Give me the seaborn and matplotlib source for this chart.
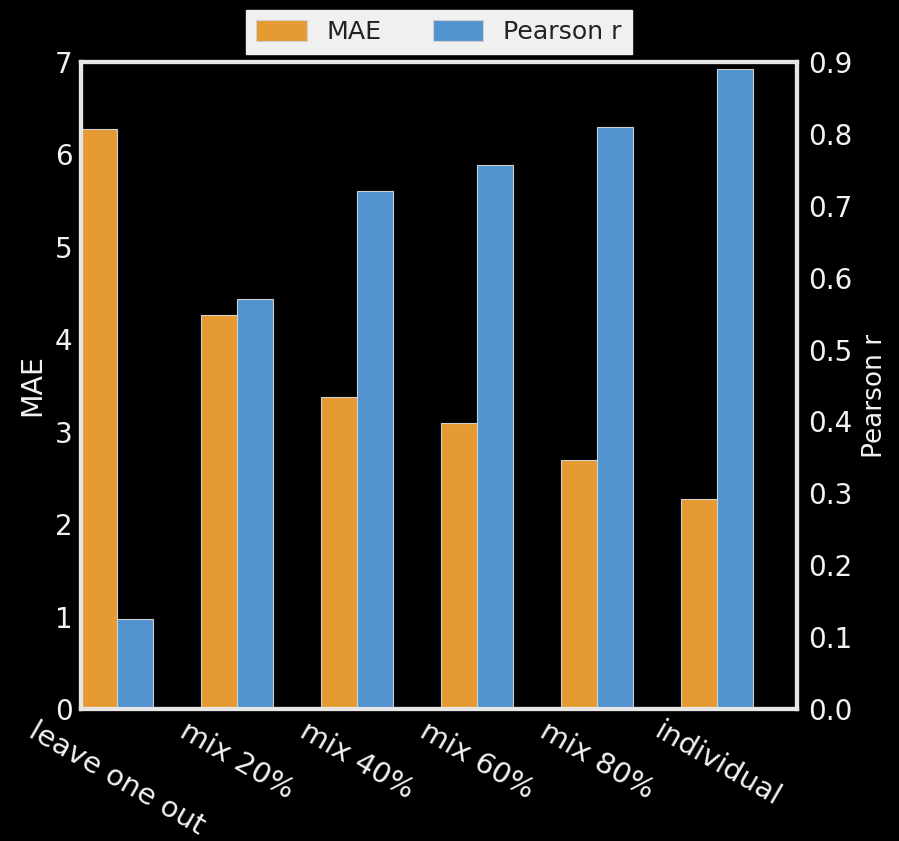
import matplotlib
matplotlib.use("Agg")
import matplotlib.pyplot as plt
import seaborn as sns
import pandas as pd

settings = ["leave one out", "mix 20%", "mix 40%", "mix 60%", "mix 80%", "individual"]
mae = [6.27, 4.26, 3.37, 3.09, 2.69, 2.27]
pearson_r = [0.125, 0.570, 0.720, 0.757, 0.810, 0.890]
metrics = ["MAE", "Pearson r"]
colors = {"MAE": "#E59B31", "Pearson r": "#5293CF"}

df = pd.DataFrame({
    "setting": settings * 2,
    "metric": ["MAE"] * len(settings) + ["Pearson r"] * len(settings),
    "value": mae + pearson_r,
})

sns.set_style("dark")
plt.rcParams["font.family"] = ["DejaVu Sans"]
fg = "#f2f2f2"
spine_c = "#e6e6e6"

fig = plt.figure(figsize=(8.99, 8.41), dpi=100, facecolor="black")
ax = fig.add_axes([0.0901, 0.157, 0.7964, 0.7693])
ax.set_facecolor("black")
ax2 = ax.twinx()

# each metric on its own y axis, dodged into its slot of the group
common = dict(x="setting", y="value", hue="metric", hue_order=metrics,
              order=settings, palette=colors, width=0.6, dodge=True,
              edgecolor="#d0d0d0", linewidth=0.8, saturation=1)
sns.barplot(data=df[df.metric == "MAE"], ax=ax, **common)
sns.barplot(data=df[df.metric == "Pearson r"], ax=ax2, **common)

for a in (ax, ax2):
    if a.get_legend() is not None:
        a.get_legend().remove()
    a.grid(False)
    a.set_xlabel("")

ax.set_xlim(-0.3, 5.667)
ax.set_ylim(0, 7)
ax2.set_ylim(0, 0.9)
ax.set_yticks(range(0, 8))
ax2.set_yticks([i / 10 for i in range(10)])
ax2.set_yticklabels([f"{i / 10:.1f}" for i in range(10)])

ax.set_ylabel("MAE", color=fg, fontsize=20.5, labelpad=6)
ax2.set_ylabel("Pearson r", color=fg, fontsize=19, labelpad=8)
ax2.yaxis.set_label_coords(1.091, 0.484)

ax.tick_params(axis="y", length=0, pad=6, labelsize=20, colors=fg)
ax2.tick_params(axis="y", length=0, pad=8, labelsize=20, colors=fg)
ax.tick_params(axis="x", length=0, pad=6, labelsize=20.8, colors=fg)
ax.set_xticks(range(len(settings)))
ax.set_xticklabels(settings, rotation=-30, ha="center", va="top")

for a in (ax, ax2):
    for s in a.spines.values():
        s.set_visible(True)
        s.set_color(spine_c)
        s.set_linewidth(3)

handles = [plt.Rectangle((0, 0), 1, 1, facecolor=colors[m], edgecolor="#d0d0d0", linewidth=0.8)
           for m in metrics]
leg = ax2.legend(handles, metrics, loc="lower center", bbox_to_anchor=(0.5, 1.0),
                 ncol=2, fontsize=18.2, frameon=True, fancybox=False, framealpha=1,
                 columnspacing=2.0, handlelength=2.0, handleheight=0.85, borderaxespad=0.3)
leg.get_frame().set_facecolor("#f0f0f0")
leg.get_frame().set_edgecolor("#f0f0f0")
for t in leg.get_texts():
    t.set_color("#222222")

fig.savefig("out.png", dpi=100, facecolor="black")
